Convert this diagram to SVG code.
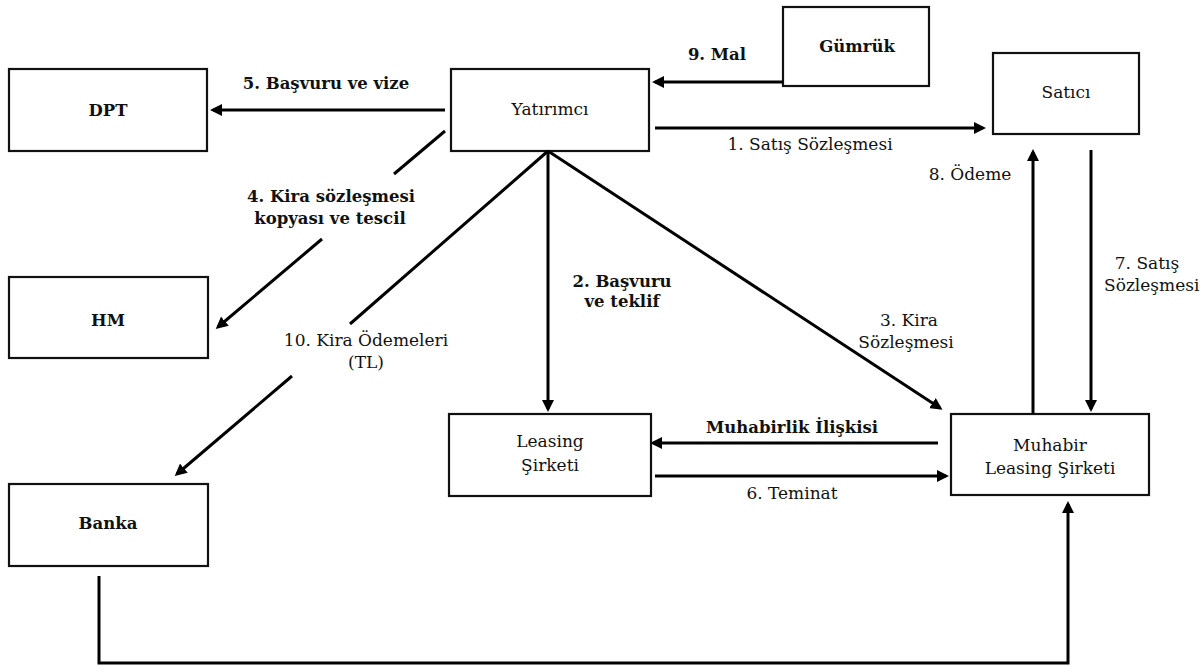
<svg xmlns="http://www.w3.org/2000/svg" width="1203" height="666" viewBox="0 0 1203 666" font-family="'DejaVu Serif', serif">
<style>
.box{fill:#fff;stroke:#111;stroke-width:2.2}
.t{font-size:17px;fill:#111;text-anchor:middle}
.b{font-weight:bold;font-size:16.5px}
.c{fill:none;stroke:#000;stroke-width:3}
</style>
<defs>
<marker id="ah" markerUnits="userSpaceOnUse" markerWidth="12" markerHeight="12" refX="9" refY="6" orient="auto">
<path d="M0,0 L12,6 L0,12 z" fill="#000"/>
</marker>
</defs>
<rect width="1203" height="666" fill="#fff"/>
<g id="dpt"><rect class="box" x="9" y="69" width="198" height="82"/><text class="t b" x="108" y="116">DPT</text></g>
<g id="yatirimci"><rect class="box" x="451" y="69" width="198" height="82"/><text class="t" x="550" y="115">Yatırımcı</text></g>
<g id="gumruk"><rect class="box" x="783" y="7" width="146" height="79"/><text class="t b" x="857" y="52">Gümrük</text></g>
<g id="satici"><rect class="box" x="993" y="53" width="146" height="81"/><text class="t" x="1066" y="98">Satıcı</text></g>
<g id="hm"><rect class="box" x="9" y="277" width="199" height="81"/><text class="t b" x="108" y="326">HM</text></g>
<g id="banka"><rect class="box" x="9" y="484" width="199" height="82"/><text class="t b" x="108" y="529">Banka</text></g>
<g id="leasing"><rect class="box" x="449" y="414" width="202" height="82"/><text class="t" x="550" y="447">Leasing</text><text class="t" x="550" y="471">Şirketi</text></g>
<g id="muhabir"><rect class="box" x="951" y="414" width="198" height="81"/><text class="t" x="1050" y="451">Muhabir</text><text class="t" x="1050" y="474">Leasing Şirketi</text></g>
<g id="connectors">
<line class="c" x1="445" y1="110" x2="213" y2="110" marker-end="url(#ah)"/>
<line class="c" x1="783" y1="82" x2="655" y2="82" marker-end="url(#ah)"/>
<line class="c" x1="655" y1="128" x2="983" y2="128" marker-end="url(#ah)"/>
<line class="c" x1="445" y1="131" x2="394" y2="174"/>
<line class="c" x1="322" y1="239" x2="218" y2="327" marker-end="url(#ah)"/>
<line class="c" x1="548" y1="151" x2="350" y2="324"/>
<line class="c" x1="292" y1="376" x2="177" y2="474" marker-end="url(#ah)"/>
<line class="c" x1="548" y1="151" x2="548" y2="409" marker-end="url(#ah)"/>
<line class="c" x1="548" y1="151" x2="940" y2="408" marker-end="url(#ah)"/>
<line class="c" x1="1033" y1="414" x2="1033" y2="152" marker-end="url(#ah)"/>
<line class="c" x1="1091" y1="150" x2="1091" y2="409" marker-end="url(#ah)"/>
<line class="c" x1="938" y1="443" x2="653" y2="443" marker-end="url(#ah)"/>
<line class="c" x1="655" y1="476" x2="946" y2="476" marker-end="url(#ah)"/>
<polyline class="c" points="99,576 99,663 1068,663 1068,504" marker-end="url(#ah)"/>
</g>
<g id="labels">
<text class="t b" x="326" y="89">5. Başvuru ve vize</text>
<text class="t b" x="717" y="60">9. Mal</text>
<text class="t" x="810" y="150">1. Satış Sözleşmesi</text>
<text class="t b" x="331" y="202">4. Kira sözleşmesi</text>
<text class="t b" x="330" y="224">kopyası ve tescil</text>
<text class="t" x="366" y="346">10. Kira Ödemeleri</text>
<text class="t" x="366" y="368">(TL)</text>
<text class="t b" x="622" y="287">2. Başvuru</text>
<text class="t b" x="622" y="307">ve teklif</text>
<text class="t" x="909" y="326">3. Kira</text>
<text class="t" x="906" y="348">Sözleşmesi</text>
<text class="t" x="970" y="180">8. Ödeme</text>
<text class="t" x="1147" y="269">7. Satış</text>
<text class="t" x="1104" y="291" style="text-anchor:start">Sözleşmesi</text>
<text class="t b" x="792" y="433">Muhabirlik İlişkisi</text>
<text class="t" x="792" y="499">6. Teminat</text>
</g>
</svg>
